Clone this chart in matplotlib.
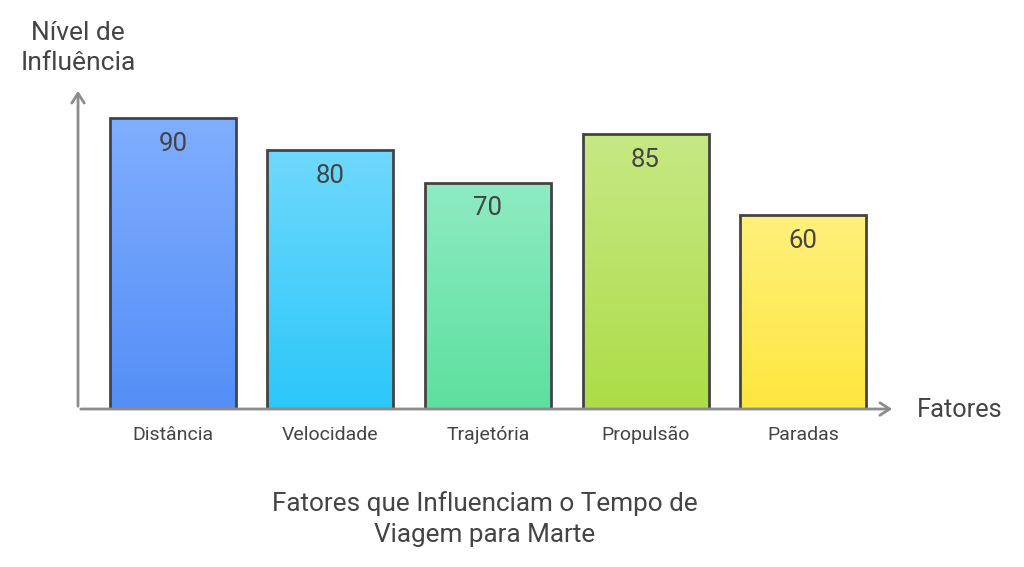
import numpy as np
import matplotlib.pyplot as plt
from matplotlib.colors import LinearSegmentedColormap

plt.rcParams['font.family'] = ['Roboto', 'DejaVu Sans']

categories = ['Distância', 'Velocidade', 'Trajetória', 'Propulsão', 'Paradas']
values = [90, 80, 70, 85, 60]
top_colors = ['#80AEFF', '#6FD8FC', '#8FEBC2', '#C7E884', '#FEF07C']
bottom_colors = ['#548EF7', '#2BC7F9', '#5CE09F', '#ACDD47', '#FFE73E']

fig = plt.figure(figsize=(10.24, 5.67), dpi=100)
ax = fig.add_axes([78 / 1024, (567 - 409) / 567, 817 / 1024, 321 / 567])
ax.set_xlim(-0.603, 4.584)
ax.set_ylim(0, 99.3)
ax.axis('off')

x = np.arange(len(categories))
width = 0.8
grad = np.linspace(0, 1, 256).reshape(-1, 1)

for i, v in enumerate(values):
    cmap = LinearSegmentedColormap.from_list('g', [bottom_colors[i], top_colors[i]])
    bar = ax.bar(x[i], v, width=width, facecolor='none', edgecolor='#444444',
                 linewidth=2, zorder=3)[0]
    im = ax.imshow(grad, cmap=cmap, aspect='auto', origin='lower',
                   extent=[x[i] - width / 2, x[i] + width / 2, 0, v], zorder=2)
    im.set_clip_path(bar)
    ax.text(x[i], v - 7.9, str(v), ha='center', va='center', fontsize=18.5,
            color='#444444', zorder=4)
    ax.text(x[i], -8.1, categories[i], ha='center', va='center', fontsize=14,
            color='#444444', clip_on=False)

# axis arrows
arrow_kw = dict(arrowstyle='->,head_length=0.7,head_width=0.45', color='#8c8c8c', lw=2)
ax.annotate('', xy=(0, 1), xytext=(0, 0), xycoords='axes fraction', arrowprops=arrow_kw)
ax.annotate('', xy=(1, 0), xytext=(0, 0), xycoords='axes fraction', arrowprops=arrow_kw)

fig.text(917 / 1024, 1 - 410 / 567, 'Fatores', ha='left', va='center', fontsize=18.3, color='#444444')
fig.text(78 / 1024, 1 - 48 / 567, 'Nível de\nInfluência', ha='center', va='center', fontsize=19,
         color='#444444', linespacing=1.35)
fig.text(485 / 1024, 1 - 519 / 567, 'Fatores que Influenciam o Tempo de\nViagem para Marte',
         ha='center', va='center', fontsize=18.8, color='#444444', linespacing=1.35)

fig.savefig('out.png', dpi=100, facecolor='white')
